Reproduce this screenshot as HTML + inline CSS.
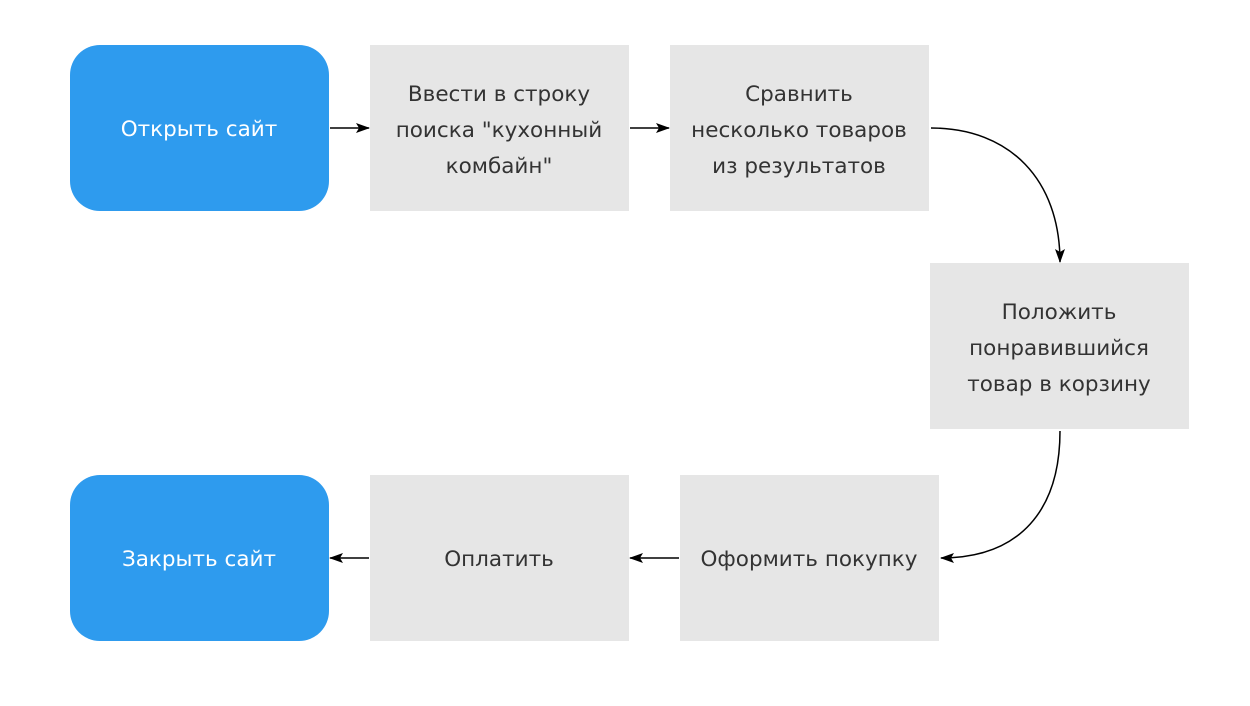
<!DOCTYPE html>
<html><head><meta charset="utf-8"><style>
html,body{margin:0;padding:0;background:#fff;}
svg{display:block;}
text{font-family:"DejaVu Sans","Liberation Sans",sans-serif;font-size:21.5px;text-anchor:middle;}
.g{fill:#333;}
.w{fill:#fff;}
</style></head><body>
<svg width="1250" height="706" viewBox="0 0 1250 706" xmlns="http://www.w3.org/2000/svg">
<defs><marker id="a" markerWidth="14" markerHeight="10" refX="13" refY="5" orient="auto" markerUnits="userSpaceOnUse"><path d="M0,0 L14,5 L0,10 L3,5 Z" fill="#000"/></marker></defs>
<rect x="70" y="45" width="259" height="166" rx="30" fill="#2e9bee"/>
<rect x="370" y="45" width="259" height="166" fill="#e6e6e6"/>
<rect x="670" y="45" width="259" height="166" fill="#e6e6e6"/>
<rect x="930" y="263" width="259" height="166" fill="#e6e6e6"/>
<rect x="680" y="475" width="259" height="166" fill="#e6e6e6"/>
<rect x="370" y="475" width="259" height="166" fill="#e6e6e6"/>
<rect x="70" y="475" width="259" height="166" rx="30" fill="#2e9bee"/>

<text class="w" x="199" y="136">Открыть сайт</text>
<text class="g" x="499" y="101">Ввести в строку</text>
<text class="g" x="499" y="137">поиска "кухонный</text>
<text class="g" x="499" y="173">комбайн"</text>
<text class="g" x="799" y="101">Сравнить</text>
<text class="g" x="799" y="137">несколько товаров</text>
<text class="g" x="799" y="173">из результатов</text>
<text class="g" x="1059" y="319">Положить</text>
<text class="g" x="1059" y="355">понравившийся</text>
<text class="g" x="1059" y="391">товар в корзину</text>
<text class="g" x="809" y="566">Оформить покупку</text>
<text class="g" x="499" y="566">Оплатить</text>
<text class="w" x="199" y="566">Закрыть сайт</text>

<g stroke="#000" stroke-width="1.5" fill="none">
<line x1="330" y1="128" x2="369" y2="128" marker-end="url(#a)"/>
<line x1="630" y1="128" x2="669" y2="128" marker-end="url(#a)"/>
<path d="M931,128 C1010,128 1060,180 1060,262" marker-end="url(#a)"/>
<path d="M1060,431 C1060,510 1020,558 941,558" marker-end="url(#a)"/>
<line x1="679" y1="558" x2="630" y2="558" marker-end="url(#a)"/>
<line x1="369" y1="558" x2="330" y2="558" marker-end="url(#a)"/>
</g>
</svg>
</body></html>
